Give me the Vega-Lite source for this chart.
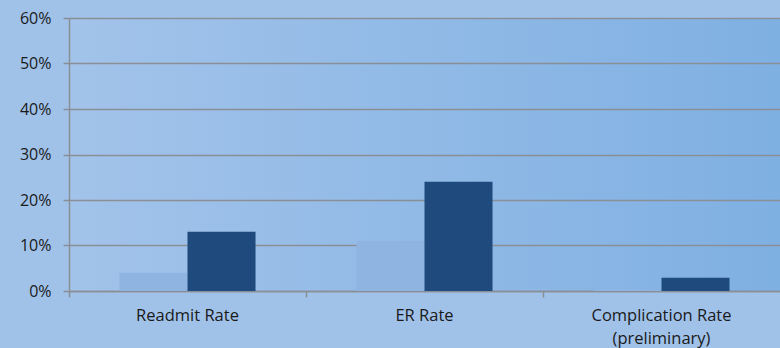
{
  "$schema": "https://vega.github.io/schema/vega-lite/v6.json",
  "autosize": "none",
  "width": 711,
  "height": 273,
  "padding": {"left": 69, "top": 18, "right": 0, "bottom": 57},
  "background": "#a0c2e9",
  "data": {
    "values": [
      {"measure": "Readmit Rate", "group": "Prior", "rate": 0.04},
      {"measure": "Readmit Rate", "group": "Current", "rate": 0.13},
      {"measure": "ER Rate", "group": "Prior", "rate": 0.11},
      {"measure": "ER Rate", "group": "Current", "rate": 0.24},
      {"measure": "Complication Rate (preliminary)", "group": "Prior", "rate": 0.003},
      {"measure": "Complication Rate (preliminary)", "group": "Current", "rate": 0.029}
    ]
  },
  "mark": {"type": "bar"},
  "encoding": {
    "x": {
      "field": "measure",
      "type": "nominal",
      "sort": null,
      "scale": {"paddingInner": 0.426, "paddingOuter": 0.213},
      "axis": {
        "title": null,
        "labelAngle": 0,
        "bandPosition": -0.371,
        "tickSize": 6,
        "tickColor": "#8a8f96",
        "tickWidth": 1.5,
        "domainColor": "#8a8f96",
        "domainWidth": 1.5,
        "labelPadding": 10,
        "labelFont": "Open Sans",
        "labelFontSize": 16.5,
        "labelColor": "#1a1a1a",
        "labelLineHeight": 23,
        "labelExpr": "datum.value == 'Complication Rate (preliminary)' ? ['Complication Rate', '(preliminary)'] : datum.value"
      }
    },
    "xOffset": {
      "field": "group",
      "type": "nominal",
      "sort": ["Prior", "Current"],
      "scale": {"paddingInner": 0, "paddingOuter": 0}
    },
    "y": {
      "field": "rate",
      "type": "quantitative",
      "scale": {"domain": [0, 0.6], "nice": false},
      "axis": {
        "title": null,
        "format": ".0%",
        "values": [0, 0.1, 0.2, 0.3, 0.4, 0.5, 0.6],
        "tickSize": 6,
        "tickColor": "#8a8f96",
        "tickWidth": 1.5,
        "domainColor": "#8a8f96",
        "domainWidth": 1.5,
        "gridColor": "#8a8f96",
        "gridWidth": 1.5,
        "gridOpacity": 1,
        "labelPadding": 12,
        "labelFont": "Open Sans",
        "labelFontSize": 16,
        "labelColor": "#1a1a1a",
        "labelOverlap": false
      }
    },
    "color": {
      "field": "group",
      "type": "nominal",
      "sort": ["Prior", "Current"],
      "scale": {"domain": ["Prior", "Current"], "range": ["#8fb4e1", "#1f4a7d"]},
      "legend": null
    }
  },
  "config": {
    "view": {
      "stroke": null,
      "fill": {
        "gradient": "linear",
        "x1": 0, "y1": 0, "x2": 1, "y2": 0,
        "stops": [
          {"offset": 0, "color": "#a2c3ea"},
          {"offset": 1, "color": "#7fb0e2"}
        ]
      }
    }
  }
}
